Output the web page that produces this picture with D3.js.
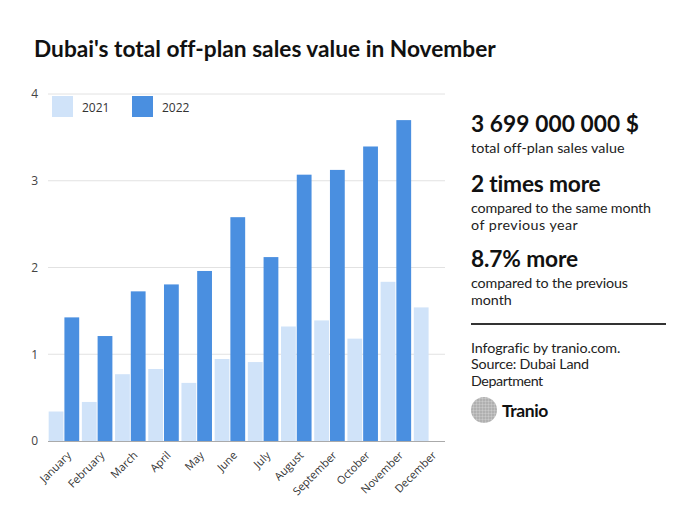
<!DOCTYPE html>
<html><head><meta charset="utf-8">
<script src="https://cdn.jsdelivr.net/npm/d3@7"></script>
<style>
html,body{margin:0;padding:0;background:#fff;}
svg{display:block;}
</style></head>
<body>
<script>
const months = ["January","February","March","April","May","June","July","August","September","October","November","December"];
const seriesNames = ["2021","2022"];
const values2021 = [0.34,0.45,0.77,0.83,0.67,0.945,0.91,1.32,1.39,1.18,1.835,1.54];
const values2022 = [1.425,1.21,1.725,1.805,1.96,2.58,2.12,3.07,3.125,3.395,3.699,0];
const yTicks = [0,1,2,3,4];
const title = "Dubai's total off-plan sales value in November";
const sideStats = [
  {big:"3 699 000 000 $", small:["total off-plan sales value"]},
  {big:"2 times more", small:["compared to the same month","of previous year"]},
  {big:"8.7% more", small:["compared to the previous","month"]}
];
const sourceLines = ["Infografic by tranio.com.","Source: Dubai Land","Department"];
const colors = {"2021":"#d0e3f9","2022":"#4a8fe0"};

const W=693,H=520;
const svg=d3.select("body").append("svg").attr("width",W).attr("height",H);
svg.append("rect").attr("width",W).attr("height",H).attr("fill","#fff");

function fit(sel,target){
  const node=sel.node();
  const nat=node.getComputedTextLength();
  const n=sel.text().length;
  if(n>1){ sel.attr("letter-spacing",((target-nat)/(n-0.5)).toFixed(3)); }
  return sel;
}

fit(svg.append("text").attr("x",34).attr("y",57).text(title)
  .attr("font-family","Lato").attr("font-weight","bold").attr("font-size",22.7).attr("fill","#111"),461);

const plot={left:48,right:445,top:94,bottom:441};
const y=d3.scaleLinear().domain([0,4]).range([plot.bottom,plot.top]);
const x0=d3.scaleBand().domain(months).range([plot.left,plot.right]).paddingInner(0.08).paddingOuter(0.02);
const x1=d3.scaleBand().domain(seriesNames).range([0,x0.bandwidth()]).paddingInner(0.06);

const g=svg.append("g");
g.selectAll("line.grid").data(yTicks.filter(d=>d>0)).join("line")
  .attr("x1",plot.left).attr("x2",plot.right)
  .attr("y1",d=>y(d)).attr("y2",d=>y(d))
  .attr("stroke","#e2e2e2").attr("stroke-width",1);

const yAxis=d3.axisLeft(y).tickValues(yTicks).tickSize(0).tickPadding(0).tickFormat(d3.format("d"));
const ya=svg.append("g").attr("transform",`translate(38,0)`).call(yAxis);
ya.select(".domain").remove();
ya.selectAll("text").attr("font-family","Open Sans").attr("font-size",12).attr("fill","#444").attr("dy","0.32em");

const data=months.map((m,i)=>({m,vals:[{k:"2021",v:values2021[i]},{k:"2022",v:values2022[i]}]}));
const grp=svg.append("g").selectAll("g").data(data).join("g").attr("transform",d=>`translate(${x0(d.m)},0)`);
grp.selectAll("rect").data(d=>d.vals.filter(e=>e.v>0)).join("rect")
  .attr("x",d=>x1(d.k)).attr("width",x1.bandwidth())
  .attr("y",d=>y(d.v)).attr("height",d=>y(0)-y(d.v))
  .attr("fill",d=>colors[d.k]);

svg.append("line").attr("x1",plot.left).attr("x2",plot.right).attr("y1",y(0)+0.5).attr("y2",y(0)+0.5)
  .attr("stroke","#aaa").attr("stroke-width",1);

const xAxis=d3.axisBottom(x0).tickSize(0).tickPadding(0);
const xa=svg.append("g").attr("transform",`translate(0,${plot.bottom})`).call(xAxis);
xa.select(".domain").remove();
xa.selectAll("text").attr("font-family","Open Sans").attr("font-size",11).attr("fill","#333")
  .attr("text-anchor","end").attr("dy",0)
  .attr("transform","translate(8,15) rotate(-45)");

const leg=svg.append("g");
seriesNames.forEach((s,i)=>{
  const lx=52+i*80;
  leg.append("rect").attr("x",lx).attr("y",96).attr("width",21).attr("height",21).attr("fill",colors[s]);
  leg.append("text").attr("x",lx+30).attr("y",112).text(s)
    .attr("font-family","Open Sans").attr("font-size",12).attr("fill","#333");
});

const side=svg.append("g").attr("font-family","Lato").attr("fill","#111");
const bigY=[132,192,267];
const bigW=[168,130,107];
const smallW=[[153],[180,107],[157,null]];
sideStats.forEach((st,i)=>{
  fit(side.append("text").attr("x",471).attr("y",bigY[i]).text(st.big)
    .attr("font-weight","bold").attr("font-size",22.7),bigW[i]);
  st.small.forEach((t,j)=>{
    const tx=side.append("text").attr("x",471).attr("y",bigY[i]+21+j*16.5).text(t)
      .attr("font-size",14.3).attr("fill","#222");
    if(smallW[i][j]) fit(tx,smallW[i][j]);
  });
});
side.append("line").attr("x1",471).attr("x2",666).attr("y1",324).attr("y2",324).attr("stroke","#333").attr("stroke-width",1.8);
const srcW=[149,118,72];
sourceLines.forEach((t,j)=>{
  fit(side.append("text").attr("x",471).attr("y",353+j*16.3).text(t).attr("font-size",14.3).attr("fill","#222"),srcW[j]);
});
const defs=svg.append("defs");
const pat=defs.append("pattern").attr("id","tex").attr("width",3).attr("height",3).attr("patternUnits","userSpaceOnUse");
pat.append("rect").attr("width",3).attr("height",3).attr("fill","#bdbdbd");
pat.append("circle").attr("cx",1).attr("cy",1).attr("r",0.7).attr("fill","#999");
pat.append("circle").attr("cx",2.3).attr("cy",2.3).attr("r",0.5).attr("fill","#d3d3d3");
side.append("circle").attr("cx",484).attr("cy",410).attr("r",13).attr("fill","url(#tex)");
fit(side.append("text").attr("x",502).attr("y",417).text("Tranio").attr("font-weight","bold").attr("font-size",17.5).attr("fill","#111"),46);
</script>
</body></html>
